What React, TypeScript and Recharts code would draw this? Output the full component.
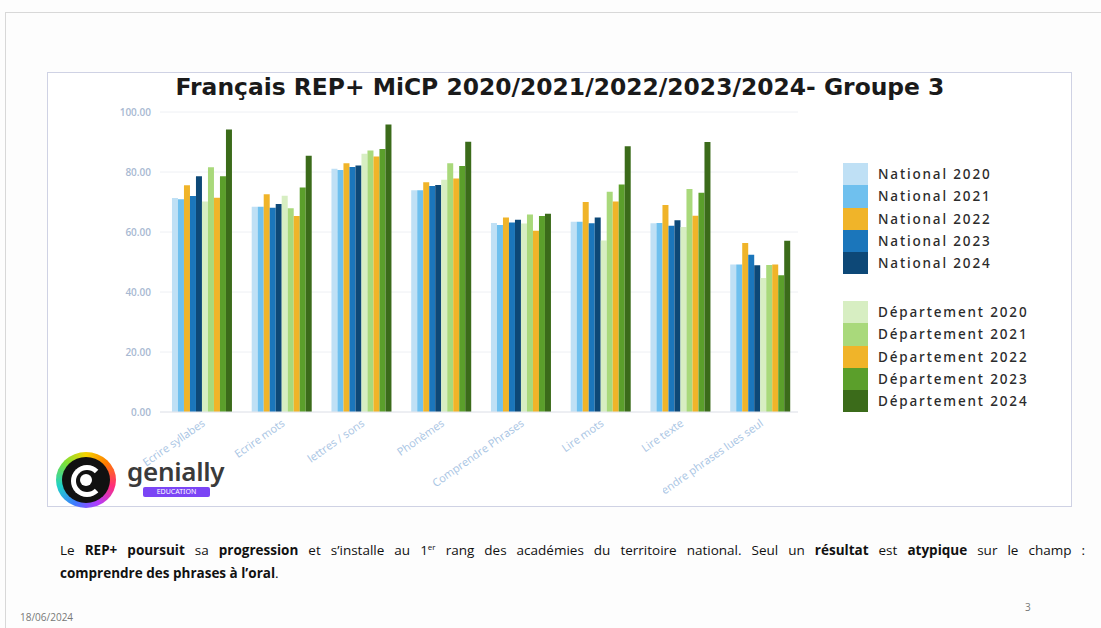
import React from "react";
import { BarChart, Bar, XAxis, YAxis, CartesianGrid } from "recharts";

const categories = [
  "Ecrire syllabes",
  "Ecrire mots",
  "lettres / sons",
  "Phonèmes",
  "Comprendre Phrases",
  "Lire mots",
  "Lire texte",
  "Comprendre phrases lues seul",
];

const national2020 = [71.3, 68.4, 81.1, 73.9, 63.0, 63.4, 62.9, 49.2];
const national2021 = [70.9, 68.4, 80.7, 73.9, 62.3, 63.4, 63.0, 49.2];
const national2022 = [75.6, 72.6, 82.9, 76.6, 64.8, 70.0, 69.0, 56.3];
const national2023 = [72.0, 68.1, 81.7, 75.3, 63.2, 62.9, 62.1, 52.4];
const national2024 = [78.6, 69.3, 82.2, 75.7, 64.1, 64.8, 63.9, 48.9];
const dept2020 = [70.2, 72.1, 86.1, 77.4, 62.8, 57.2, 61.7, 44.7];
const dept2021 = [81.6, 67.9, 87.2, 82.9, 65.8, 73.4, 74.3, 49.0];
const dept2022 = [71.4, 65.3, 85.2, 77.8, 60.4, 70.2, 65.4, 49.2];
const dept2023 = [78.6, 74.8, 87.7, 82.0, 65.3, 75.8, 73.1, 45.6];
const dept2024 = [94.2, 85.4, 95.8, 90.1, 66.1, 88.6, 90.0, 57.1];

const yTicks = [0, 20, 40, 60, 80, 100];

const series = [
  { key: "National 2020", values: national2020, color: "#bfe0f5" },
  { key: "National 2021", values: national2021, color: "#6fc0ee" },
  { key: "National 2022", values: national2022, color: "#f0b429" },
  { key: "National 2023", values: national2023, color: "#1b76bb" },
  { key: "National 2024", values: national2024, color: "#0d4877" },
  { key: "Département 2020", values: dept2020, color: "#d7eec2" },
  { key: "Département 2021", values: dept2021, color: "#a9d97b" },
  { key: "Département 2022", values: dept2022, color: "#f0b429" },
  { key: "Département 2023", values: dept2023, color: "#5b9f2b" },
  { key: "Département 2024", values: dept2024, color: "#3b6b1a" },
];

const data = categories.map((name, i) => {
  const row: Record<string, string | number> = { name };
  series.forEach((s) => {
    row[s.key] = s.values[i];
  });
  return row;
});

function AngledTick(props: any) {
  const { x, y, payload, index } = props;
  const last = index === categories.length - 1;
  return (
    <g>
      {last && (
        <defs>
          <clipPath id="cutLabel">
            <rect x={663} y={300} width={300} height={300} />
          </clipPath>
        </defs>
      )}
      <g clipPath={last ? "url(#cutLabel)" : undefined}>
        <text
          x={x + 6}
          y={y + 5}
          transform={`rotate(-35 ${x + 6} ${y + 5})`}
          textAnchor="end"
          fontSize={11}
          fill="#a9c5e4"
          fontFamily="'Open Sans', sans-serif"
        >
          {payload.value}
        </text>
      </g>
    </g>
  );
}

function Logo() {
  return (
    <div style={{ position: "absolute", left: 56, top: 452 }}>
      <div
        style={{
          position: "absolute",
          left: 0,
          top: 0,
          width: 60,
          height: 56,
          borderRadius: "50%",
          background:
            "conic-gradient(#f5d300, #ff7a00, #ff2d7a, #b03cff, #3d7bff, #1fd1c8, #7be03a, #f5d300)",
        }}
      />
      <div
        style={{
          position: "absolute",
          left: 6,
          top: 5,
          width: 48,
          height: 46,
          borderRadius: "50%",
          background: "#111",
        }}
      />
      <div
        style={{
          position: "absolute",
          left: 15,
          top: 13,
          width: 22,
          height: 22,
          borderRadius: "50%",
          border: "5px solid #fff",
          borderRightColor: "transparent",
        }}
      />
      <div
        style={{
          position: "absolute",
          left: 24,
          top: 22,
          width: 12,
          height: 12,
          borderRadius: "50%",
          background: "#fff",
        }}
      />
      <div
        style={{
          position: "absolute",
          left: 71,
          top: 4,
          fontFamily: "'Noto Sans', sans-serif",
          fontWeight: 600,
          fontSize: 26,
          color: "#3a3a3a",
          lineHeight: "30px",
          letterSpacing: -0.3,
        }}
      >
        genially
      </div>
      <div
        style={{
          position: "absolute",
          left: 87,
          top: 35,
          width: 67,
          height: 10,
          borderRadius: 2,
          background: "#7b45f5",
          color: "#fff",
          fontFamily: "'Noto Sans', sans-serif",
          fontSize: 7,
          lineHeight: "10px",
          textAlign: "center",
        }}
      >
        EDUCATION
      </div>
    </div>
  );
}

function LegendBlock({ items, top }: { items: typeof series; top: number }) {
  return (
    <div style={{ position: "absolute", left: 843, top }}>
      {items.map((s) => (
        <div
          key={s.key}
          style={{ display: "flex", alignItems: "center", height: 22.3 }}
        >
          <div style={{ width: 25, height: 22.3, background: s.color }} />
          <span
            style={{
              marginLeft: 10,
              fontFamily: "'Noto Sans', sans-serif",
              fontSize: 13.5,
              fontWeight: 500,
              letterSpacing: 1.85,
              color: "#2b2b2b",
            }}
          >
            {s.key}
          </span>
        </div>
      ))}
    </div>
  );
}

export default function App() {
  return (
    <div
      style={{
        position: "fixed",
        left: 0,
        top: 0,
        width: 1101,
        height: 628,
        background: "#fdfdfd",
        overflow: "hidden",
      }}
    >
      <div
        style={{
          position: "absolute",
          left: 5,
          top: 12,
          width: 1110,
          height: 640,
          borderTop: "1px solid #d8d8d8",
          borderLeft: "1px solid #d8d8d8",
        }}
      />
      <div
        style={{
          position: "absolute",
          left: 47,
          top: 72,
          width: 1023,
          height: 433,
          border: "1.5px solid #cfd2e4",
          background: "#fff",
        }}
      />
      <div
        style={{
          position: "absolute",
          left: 47,
          top: 72,
          width: 1026,
          textAlign: "center",
          fontFamily: "'DejaVu Sans', sans-serif",
          fontWeight: 700,
          fontSize: 23.4,
          lineHeight: "30px",
          color: "#1a1a1a",
        }}
      >
        Français REP+ MiCP 2020/2021/2022/2023/2024- Groupe 3
      </div>
      <div style={{ position: "absolute", left: 0, top: 0 }}>
        <BarChart
          width={820}
          height={500}
          data={data}
          margin={{ top: 112, right: 22, bottom: 8, left: 100 }}
          barCategoryGap="15%"
          barGap={0}
        >
          <CartesianGrid vertical={false} stroke="#eef0f4" />
          <XAxis
            dataKey="name"
            interval={0}
            height={80}
            tickLine={false}
            axisLine={{ stroke: "#e3e6ec" }}
            tick={<AngledTick />}
          />
          <YAxis
            domain={[0, 100]}
            ticks={yTicks}
            width={60}
            axisLine={false}
            tickLine={false}
            tickSize={0}
            tickMargin={9}
            tickFormatter={(v: number) => v.toFixed(2)}
            tick={{
              fontSize: 10,
              fill: "#a8b9d2",
              fontFamily: "'Open Sans', sans-serif",
              fontWeight: 600,
            }}
          />
          {series.map((s) => (
            <Bar
              key={s.key}
              dataKey={s.key}
              fill={s.color}
              isAnimationActive={false}
            />
          ))}
        </BarChart>
      </div>
      <LegendBlock items={series.slice(0, 5)} top={163} />
      <LegendBlock items={series.slice(5)} top={301} />
      <Logo />
      <div
        style={{
          position: "absolute",
          left: 60,
          top: 539,
          width: 1025,
          fontFamily: "'Open Sans', sans-serif",
          fontSize: 13.5,
          lineHeight: "23px",
          color: "#111",
        }}
      >
        <div style={{ textAlign: "justify", textAlignLast: "justify" }}>
          Le <b>REP+ poursuit</b> sa <b>progression</b> et s’installe au 1
          <sup style={{ fontSize: 8, lineHeight: 0 }}>er</sup> rang des
          académies du territoire national. Seul un <b>résultat</b> est{" "}
          <b>atypique</b> sur le champ :
        </div>
        <div>
          <b>comprendre des phrases à l’oral</b>.
        </div>
      </div>
      <div
        style={{
          position: "absolute",
          left: 20,
          top: 610,
          fontFamily: "'Open Sans', sans-serif",
          fontSize: 10,
          color: "#777",
        }}
      >
        18/06/2024
      </div>
      <div
        style={{
          position: "absolute",
          left: 1025,
          top: 600,
          fontFamily: "'Open Sans', sans-serif",
          fontSize: 10,
          color: "#777",
        }}
      >
        3
      </div>
    </div>
  );
}
